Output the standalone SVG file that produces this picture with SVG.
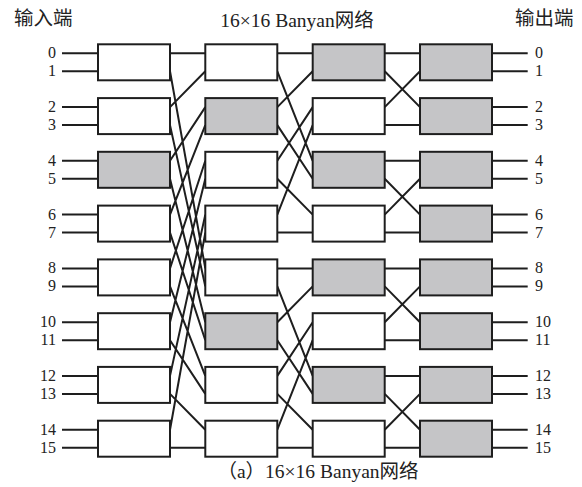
<svg xmlns="http://www.w3.org/2000/svg" width="582" height="487" viewBox="0 0 582 487">
<style>
.b{fill:#ffffff;stroke:#1e1e1e;stroke-width:2}
.g{fill:#c5c5c7;stroke:#1e1e1e;stroke-width:2}
.w{stroke:#1e1e1e;stroke-width:2;fill:none;stroke-linecap:butt}
.t{font-family:"Liberation Serif","Noto Sans CJK SC",serif;font-size:16px;fill:#222}
.h{font-family:"Liberation Serif","Noto Sans CJK SC",serif;font-size:19.5px;fill:#222}
.r{text-anchor:end}
.m{text-anchor:middle}
</style>
<rect width="582" height="487" fill="#ffffff"/>
<g id="labels">
<text class="h" x="14" y="24.5">输入端</text>
<text class="h" x="515" y="24.5">输出端</text>
<text class="h m" x="297" y="26.5">16×16 Banyan网络</text>
<text class="h m" x="318" y="477.5">（a）16×16 Banyan网络</text>
</g>
<g id="connectors">
<path class="w" d="M62 53.3H98M62 71.3H98M62 107.1H98M62 125.1H98M62 160.8H98M62 178.8H98M62 214.6H98M62 232.6H98M62 268.4H98M62 286.4H98M62 322.2H98M62 340.2H98M62 375.9H98M62 393.9H98M62 429.7H98M62 447.7H98"/>
<path class="w" d="M492 53.3H527.7M492 71.3H527.7M492 107.1H527.7M492 125.1H527.7M492 160.8H527.7M492 178.8H527.7M492 214.6H527.7M492 232.6H527.7M492 268.4H527.7M492 286.4H527.7M492 322.2H527.7M492 340.2H527.7M492 375.9H527.7M492 393.9H527.7M492 429.7H527.7M492 447.7H527.7"/>
<path class="w" d="M170 53.3L205.3 53.3M170 71.3L205.3 268.4M170 107.1L205.3 71.3M170 125.1L205.3 286.4M170 160.8L205.3 107.1M170 178.8L205.3 322.2M170 214.6L205.3 125.1M170 232.6L205.3 340.2M170 268.4L205.3 160.8M170 286.4L205.3 375.9M170 322.2L205.3 178.8M170 340.2L205.3 393.9M170 375.9L205.3 214.6M170 393.9L205.3 429.7M170 429.7L205.3 232.6M170 447.7L205.3 447.7"/>
<path class="w" d="M277.3 53.3L312.7 53.3M277.3 71.3L312.7 160.8M277.3 107.1L312.7 71.3M277.3 125.1L312.7 178.8M277.3 160.8L312.7 107.1M277.3 178.8L312.7 214.6M277.3 214.6L312.7 125.1M277.3 232.6L312.7 232.6M277.3 268.4L312.7 268.4M277.3 286.4L312.7 375.9M277.3 322.2L312.7 286.4M277.3 340.2L312.7 393.9M277.3 375.9L312.7 322.2M277.3 393.9L312.7 429.7M277.3 429.7L312.7 340.2M277.3 447.7L312.7 447.7"/>
<path class="w" d="M384.7 53.3L420 53.3M384.7 71.3L420 107.1M384.7 107.1L420 71.3M384.7 125.1L420 125.1M384.7 160.8L420 160.8M384.7 178.8L420 214.6M384.7 214.6L420 178.8M384.7 232.6L420 232.6M384.7 268.4L420 268.4M384.7 286.4L420 322.2M384.7 322.2L420 286.4M384.7 340.2L420 340.2M384.7 375.9L420 375.9M384.7 393.9L420 429.7M384.7 429.7L420 393.9M384.7 447.7L420 447.7"/>
</g>
<g id="in-labels" class="t r">
<text x="56" y="58.3">0</text><text x="56" y="76.3">1</text>
<text x="56" y="112.1">2</text><text x="56" y="130.1">3</text>
<text x="56" y="165.8">4</text><text x="56" y="183.8">5</text>
<text x="56" y="219.6">6</text><text x="56" y="237.6">7</text>
<text x="56" y="273.4">8</text><text x="56" y="291.4">9</text>
<text x="56" y="327.2">10</text><text x="56" y="345.2">11</text>
<text x="56" y="380.9">12</text><text x="56" y="398.9">13</text>
<text x="56" y="434.7">14</text><text x="56" y="452.7">15</text>
</g>
<g id="out-labels" class="t">
<text x="535" y="58.3">0</text><text x="535" y="76.3">1</text>
<text x="535" y="112.1">2</text><text x="535" y="130.1">3</text>
<text x="535" y="165.8">4</text><text x="535" y="183.8">5</text>
<text x="535" y="219.6">6</text><text x="535" y="237.6">7</text>
<text x="535" y="273.4">8</text><text x="535" y="291.4">9</text>
<text x="535" y="327.2">10</text><text x="535" y="345.2">11</text>
<text x="535" y="380.9">12</text><text x="535" y="398.9">13</text>
<text x="535" y="434.7">14</text><text x="535" y="452.7">15</text>
</g>
<g id="s1-0"><rect class="b" x="98" y="44.3" width="72" height="36"/></g>
<g id="s1-1"><rect class="b" x="98" y="98.1" width="72" height="36"/></g>
<g id="s1-2"><rect class="g" x="98" y="151.8" width="72" height="36"/></g>
<g id="s1-3"><rect class="b" x="98" y="205.6" width="72" height="36"/></g>
<g id="s1-4"><rect class="b" x="98" y="259.4" width="72" height="36"/></g>
<g id="s1-5"><rect class="b" x="98" y="313.2" width="72" height="36"/></g>
<g id="s1-6"><rect class="b" x="98" y="366.9" width="72" height="36"/></g>
<g id="s1-7"><rect class="b" x="98" y="420.7" width="72" height="36"/></g>
<g id="s2-0"><rect class="b" x="205.3" y="44.3" width="72" height="36"/></g>
<g id="s2-1"><rect class="g" x="205.3" y="98.1" width="72" height="36"/></g>
<g id="s2-2"><rect class="b" x="205.3" y="151.8" width="72" height="36"/></g>
<g id="s2-3"><rect class="b" x="205.3" y="205.6" width="72" height="36"/></g>
<g id="s2-4"><rect class="b" x="205.3" y="259.4" width="72" height="36"/></g>
<g id="s2-5"><rect class="g" x="205.3" y="313.2" width="72" height="36"/></g>
<g id="s2-6"><rect class="b" x="205.3" y="366.9" width="72" height="36"/></g>
<g id="s2-7"><rect class="b" x="205.3" y="420.7" width="72" height="36"/></g>
<g id="s3-0"><rect class="g" x="312.7" y="44.3" width="72" height="36"/></g>
<g id="s3-1"><rect class="b" x="312.7" y="98.1" width="72" height="36"/></g>
<g id="s3-2"><rect class="g" x="312.7" y="151.8" width="72" height="36"/></g>
<g id="s3-3"><rect class="b" x="312.7" y="205.6" width="72" height="36"/></g>
<g id="s3-4"><rect class="g" x="312.7" y="259.4" width="72" height="36"/></g>
<g id="s3-5"><rect class="b" x="312.7" y="313.2" width="72" height="36"/></g>
<g id="s3-6"><rect class="g" x="312.7" y="366.9" width="72" height="36"/></g>
<g id="s3-7"><rect class="b" x="312.7" y="420.7" width="72" height="36"/></g>
<g id="s4-0"><rect class="g" x="420" y="44.3" width="72" height="36"/></g>
<g id="s4-1"><rect class="g" x="420" y="98.1" width="72" height="36"/></g>
<g id="s4-2"><rect class="g" x="420" y="151.8" width="72" height="36"/></g>
<g id="s4-3"><rect class="g" x="420" y="205.6" width="72" height="36"/></g>
<g id="s4-4"><rect class="g" x="420" y="259.4" width="72" height="36"/></g>
<g id="s4-5"><rect class="g" x="420" y="313.2" width="72" height="36"/></g>
<g id="s4-6"><rect class="g" x="420" y="366.9" width="72" height="36"/></g>
<g id="s4-7"><rect class="g" x="420" y="420.7" width="72" height="36"/></g>
</svg>
